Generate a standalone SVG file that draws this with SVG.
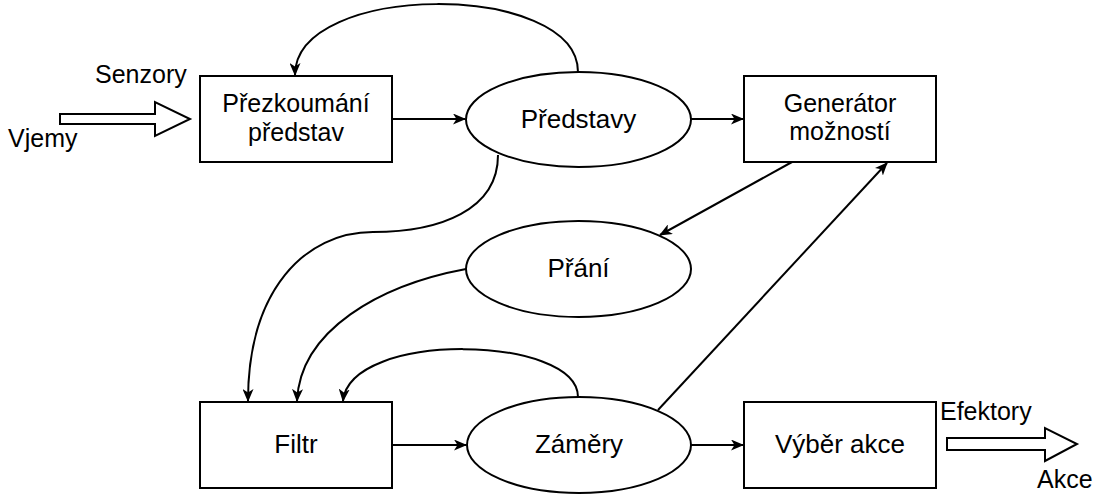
<svg xmlns="http://www.w3.org/2000/svg" width="1097" height="495" viewBox="0 0 1097 495">
  <style>
    .shape { fill: #ffffff; stroke: #000000; stroke-width: 2; }
    .edge { fill: none; stroke: #000000; stroke-width: 2; }
    .label { font-family: "Liberation Sans", Arial, sans-serif; font-size: 26px; fill: #000000; text-anchor: middle; }
    .label2 { font-family: "Liberation Sans", Arial, sans-serif; font-size: 25px; fill: #000000; text-anchor: middle; }
    .side { font-family: "Liberation Sans", Arial, sans-serif; font-size: 25px; fill: #000000; }
    .hollow { fill: #ffffff; stroke: #000000; stroke-width: 2; }
  </style>
  <defs>
    <marker id="arrow" viewBox="0 0 13 11" refX="12" refY="5.5" markerWidth="13" markerHeight="11" markerUnits="userSpaceOnUse" orient="auto">
      <path d="M0,0 L13,5.5 L0,11 L3.5,5.5 Z" fill="#000000"/>
    </marker>
  </defs>

  <!-- input and output arrows -->
  <g id="input">
    <path class="hollow" d="M60,114 L155,114 L155,102 L190,119 L155,136 L155,124 L60,124 Z"/>
    <text class="side" x="95" y="83">Senzory</text>
    <text class="side" x="8" y="147">Vjemy</text>
  </g>
  <g id="output">
    <path class="hollow" d="M947,438 L1045,438 L1045,428 L1077,444 L1045,461 L1045,450 L947,450 Z"/>
    <text class="side" x="940" y="420">Efektory</text>
    <text class="side" x="1037" y="488">Akce</text>
  </g>

  <!-- connectors -->
  <g id="connectors">
    <line class="edge" x1="392" y1="119" x2="465" y2="119" marker-end="url(#arrow)"/>
    <line class="edge" x1="691" y1="119" x2="743" y2="119" marker-end="url(#arrow)"/>
    <path class="edge" d="M578,72 C578,-19 295,-19 295,75" marker-end="url(#arrow)"/>
    <path class="edge" d="M498,155 C498,210 440,232 373,232 C305,232 248,290 248,401" marker-end="url(#arrow)"/>
    <path class="edge" d="M466,269 C380,285 300,330 297,401" marker-end="url(#arrow)"/>
    <path class="edge" d="M578,397 C578,335 350,330 343,401" marker-end="url(#arrow)"/>
    <line class="edge" x1="792" y1="162" x2="660" y2="235" marker-end="url(#arrow)"/>
    <line class="edge" x1="658" y1="410" x2="887" y2="163" marker-end="url(#arrow)"/>
    <line class="edge" x1="392" y1="445" x2="466" y2="445" marker-end="url(#arrow)"/>
    <line class="edge" x1="691" y1="445" x2="743" y2="445" marker-end="url(#arrow)"/>
  </g>

  <!-- nodes -->
  <g id="prezkoumani">
    <rect class="shape" x="200" y="76" width="192" height="86"/>
    <text class="label2" x="296" y="111.5">Přezkoumání</text>
    <text class="label2" x="296" y="140.5">představ</text>
  </g>
  <g id="predstavy">
    <ellipse class="shape" cx="578.5" cy="119.5" rx="112.5" ry="47.5"/>
    <text class="label" x="578.5" y="128">Představy</text>
  </g>
  <g id="generator">
    <rect class="shape" x="744" y="76" width="192" height="86"/>
    <text class="label2" x="840" y="111.5">Generátor</text>
    <text class="label2" x="840" y="140">možností</text>
  </g>
  <g id="prani">
    <ellipse class="shape" cx="578.5" cy="269" rx="112.5" ry="48"/>
    <text class="label" x="578.5" y="277">Přání</text>
  </g>
  <g id="filtr">
    <rect class="shape" x="200" y="402" width="192" height="86"/>
    <text class="label" x="296" y="453">Filtr</text>
  </g>
  <g id="zamery">
    <ellipse class="shape" cx="579" cy="445" rx="112" ry="48"/>
    <text class="label" x="579" y="453">Záměry</text>
  </g>
  <g id="vyber">
    <rect class="shape" x="744" y="402" width="192" height="86"/>
    <text class="label" x="840" y="453">Výběr akce</text>
  </g>
</svg>
